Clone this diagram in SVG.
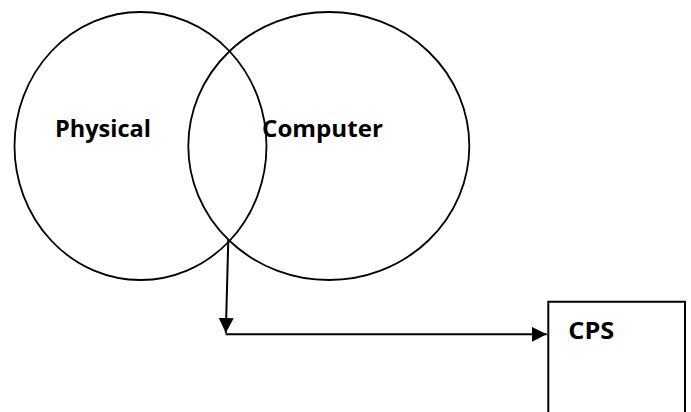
<svg xmlns="http://www.w3.org/2000/svg" width="691" height="412" viewBox="0 0 691 412">
<style>
.shape{fill:none;stroke:#000;stroke-width:1.8}
.box{fill:#fff;stroke:#000;stroke-width:2}
.lbl{font-family:"Open Sans","Noto Sans","Liberation Sans",sans-serif;font-weight:bold;font-size:24px;fill:#000}
.conn{fill:none;stroke:#000;stroke-width:2}
</style>
<defs>
<marker id="arr" markerWidth="16" markerHeight="16" refX="15" refY="7.5" orient="auto" markerUnits="userSpaceOnUse" viewBox="0 0 16 16">
<path d="M0,0 L15,7.5 L0,15 Z" fill="#000"/>
</marker>
</defs>
<rect width="691" height="412" fill="#fff"/>
<g id="physical">
<ellipse class="shape" cx="140.5" cy="146" rx="126" ry="134"/>
<text class="lbl" x="55" y="137" textLength="96" lengthAdjust="spacingAndGlyphs">Physical</text>
</g>
<g id="computer">
<ellipse class="shape" cx="328.8" cy="146" rx="140.5" ry="134"/>
<text class="lbl" x="262" y="137" textLength="121" lengthAdjust="spacingAndGlyphs">Computer</text>
</g>
<g id="cps">
<path class="box" d="M548.3,420 V301.7 H685 V420"/>
<text class="lbl" x="568.3" y="338.5" textLength="46" lengthAdjust="spacingAndGlyphs">CPS</text>
</g>
<g id="connectors">
<path class="conn" d="M228.3,240 L225.8,333" marker-end="url(#arr)"/>
<path class="conn" d="M225.5,334.3 H546.7" marker-end="url(#arr)"/>
</g>
</svg>
